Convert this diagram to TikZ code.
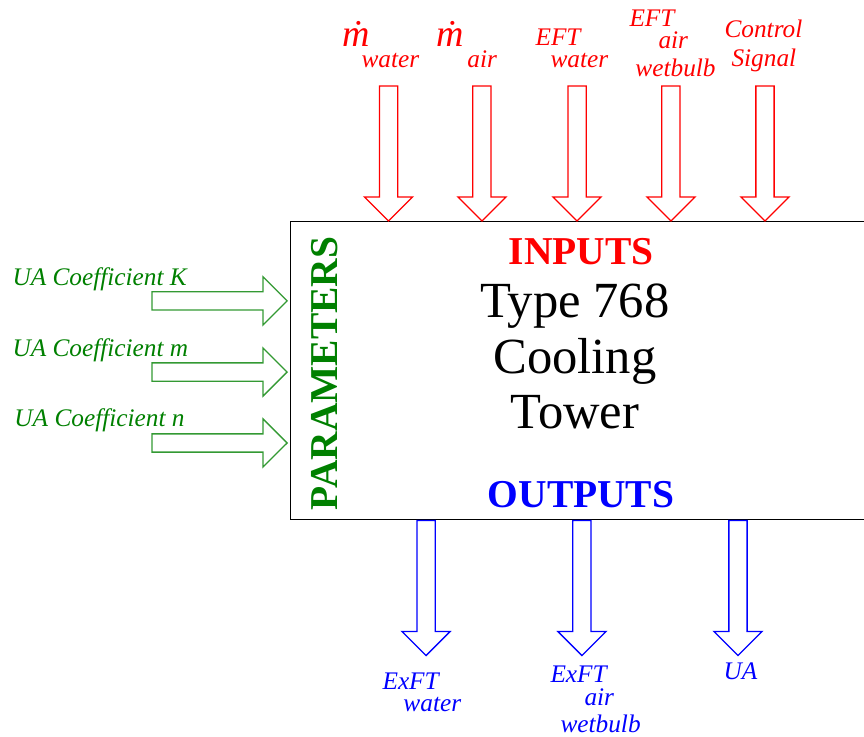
\documentclass[tikz,border=0pt]{standalone}
\usepackage{fontspec}
\setmainfont{Liberation Serif}
\usepackage{tikz}
\usetikzlibrary{positioning, shapes.arrows}

\definecolor{pargreen}{RGB}{0,128,0}

\begin{document}
\begin{tikzpicture}[
    blockarrow/.style={single arrow, single arrow head extend=0.208cm, inner xsep=0pt, inner ysep=0.118cm, minimum height=1.875cm, line width=0.5pt},
    inarrow/.style={blockarrow, draw=red, rotate=-90},
    outarrow/.style={blockarrow, draw=blue, rotate=-90},
    pararrow/.style={blockarrow, draw=pargreen!80},
    inlabel/.style={anchor=base west, inner sep=0pt, red, font=\itshape\fontsize{10}{12}\selectfont},
    outlabel/.style={inlabel, blue},
    parlabel/.style={inlabel, pargreen},
    mdot/.style={inlabel, font=\itshape\fontsize{15}{15}\selectfont}
]
    \useasboundingbox (0,0) rectangle (12,10.236);

    % the tower block (right edge runs off the page)
    \node[draw, line width=0.5pt, anchor=south west, inner sep=0pt, minimum width=9cm, minimum height=4.139cm] (tower) at (4.028,3.014) {};
    \node[align=center, inner sep=0pt, font=\fontsize{20}{22}\selectfont] (title) at (7.986,5.285) {Type 768\\Cooling\\Tower};
    \node[anchor=base, inner sep=0pt, red, font=\bfseries\fontsize{15.6}{18}\selectfont] (inputs) at (8.07,6.556) {INPUTS};
    \node[anchor=base, inner sep=0pt, blue, font=\bfseries\fontsize{15.6}{18}\selectfont] (outputs) at (8.07,3.181) {OUTPUTS};
    \node[anchor=base, inner sep=0pt, rotate=90, pargreen, font=\bfseries\fontsize{15.6}{18}\selectfont] (params) at (4.694,5.049) {PARAMETERS};

    % inputs
    \node[inarrow, anchor=tip] (inMw) at (5.396,7.153) {};
    \node[inarrow, anchor=tip] (inMa) at (6.694,7.153) {};
    \node[inarrow, anchor=tip] (inTw) at (8.014,7.153) {};
    \node[inarrow, anchor=tip] (inTa) at (9.319,7.153) {};
    \node[inarrow, anchor=tip] (inCtl) at (10.625,7.153) {};

    \node[mdot] (mw) at (4.75,9.583) {ṁ};
    \node[inlabel] (mwSub) at (5.014,9.292) {water};
    \node[mdot] (ma) at (6.056,9.583) {ṁ};
    \node[inlabel] (maSub) at (6.486,9.292) {air};
    \node[inlabel] (tw) at (7.431,9.597) {EFT};
    \node[inlabel] (twSub) at (7.639,9.292) {water};
    \node[inlabel] (ta) at (8.736,9.861) {EFT};
    \node[inlabel] (taSub) at (9.139,9.556) {air};
    \node[inlabel] (taSubb) at (8.819,9.167) {wetbulb};
    \node[inlabel] (ctl) at (10.056,9.708) {Control};
    \node[inlabel] (ctlSub) at (10.153,9.306) {Signal};

    % parameters
    \node[pararrow, anchor=tip] (parK) at (4.0,6.056) {};
    \node[pararrow, anchor=tip] (parM) at (4.0,5.069) {};
    \node[pararrow, anchor=tip] (parN) at (4.0,4.083) {};

    \node[parlabel] (labK) at (0.167,6.264) {UA Coefficient K};
    \node[parlabel] (labM) at (0.167,5.278) {UA Coefficient m};
    \node[parlabel] (labN) at (0.194,4.306) {UA Coefficient n};

    % outputs
    \node[outarrow, anchor=tail] (outTw) at (5.917,3.014) {};
    \node[outarrow, anchor=tail] (outTa) at (8.083,3.014) {};
    \node[outarrow, anchor=tail] (outUA) at (10.25,3.014) {};

    \node[outlabel] (xw) at (5.306,0.653) {ExFT};
    \node[outlabel] (xwSub) at (5.597,0.347) {water};
    \node[outlabel] (xa) at (7.639,0.75) {ExFT};
    \node[outlabel] (xaSub) at (8.111,0.431) {air};
    \node[outlabel] (xaSubb) at (7.778,0.056) {wetbulb};
    \node[outlabel] (ua) at (10.042,0.792) {UA};
\end{tikzpicture}
\end{document}
